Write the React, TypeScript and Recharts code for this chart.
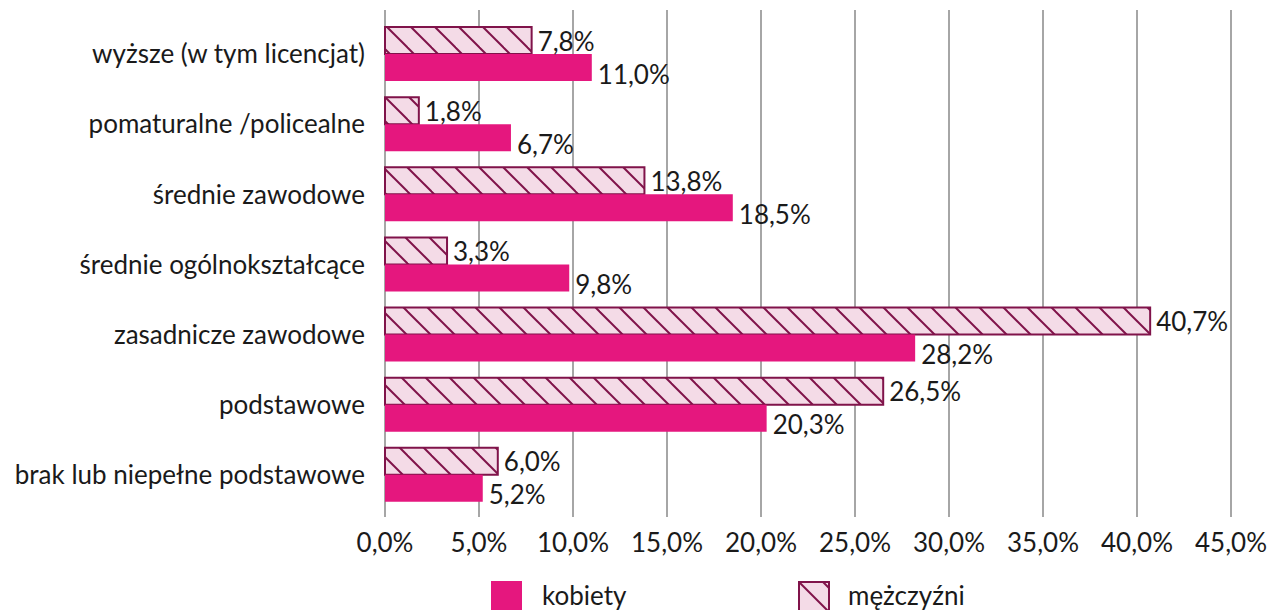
import React from "react";
import { BarChart, Bar, XAxis, YAxis, CartesianGrid, LabelList } from "recharts";

const categories = [
  "wyższe (w tym licencjat)",
  "pomaturalne /policealne",
  "średnie zawodowe",
  "średnie ogólnokształcące",
  "zasadnicze zawodowe",
  "podstawowe",
  "brak lub niepełne podstawowe",
];
const kobiety = [11.0, 6.7, 18.5, 9.8, 28.2, 20.3, 5.2];
const mezczyzni = [7.8, 1.8, 13.8, 3.3, 40.7, 26.5, 6.0];
const xTicks = [0, 5, 10, 15, 20, 25, 30, 35, 40, 45];
const seriesNames = ["kobiety", "mężczyźni"];

const data = categories.map((c, i) => ({ name: c, k: kobiety[i], m: mezczyzni[i] }));

const PINK = "#e5177e";
const MAROON = "#80134a";
const LIGHT = "#f4dbe7";
const FONT = "Lato, 'Open Sans', sans-serif";
const FS = 26;
const TXT = "#1a1a1a";

const fmt = (v: number) => v.toFixed(1).replace(".", ",") + "%";

const menLabel = (props: any) => {
  const { x, y, width, height, value } = props;
  return (
    <text x={x + width + 6} y={y + height / 2} dominantBaseline="central" fontSize={FS} fill={TXT} fontFamily={FONT}>
      {fmt(value)}
    </text>
  );
};
const womenLabel = (props: any) => {
  const { x, y, width, height, value } = props;
  return (
    <text x={x + width + 6} y={y + height / 2 + 6} dominantBaseline="central" fontSize={FS} fill={TXT} fontFamily={FONT}>
      {fmt(value)}
    </text>
  );
};

export default function App() {
  return (
    <div style={{ position: "absolute", left: 0, top: 0, width: 1277, height: 610, background: "#fff", overflow: "hidden", fontFamily: FONT }}>
      <BarChart
        width={1277}
        height={610}
        data={data}
        layout="vertical"
        margin={{ top: 10, right: 46, bottom: 63, left: 0 }}
        barSize={27}
        barGap={0}
      >
        <defs>
          <pattern id="hatch" patternUnits="userSpaceOnUse" width="24" height="24">
            <rect x="0" y="0" width="24" height="24" fill={LIGHT} />
            <line x1="0" y1="0" x2="24" y2="24" stroke={MAROON} strokeWidth="2" />
            <line x1="-12" y1="12" x2="12" y2="36" stroke={MAROON} strokeWidth="2" />
            <line x1="12" y1="-12" x2="36" y2="12" stroke={MAROON} strokeWidth="2" />
          </pattern>
        </defs>
        <CartesianGrid horizontal={false} vertical={true} stroke="#a6a6a6" strokeWidth={2} />
        <XAxis
          type="number"
          domain={[0, 45]}
          ticks={xTicks}
          tickFormatter={fmt}
          axisLine={false}
          tickLine={false}
          tickSize={0}
          tickMargin={17}
          height={30}
          interval={0}
          tick={{ fontSize: FS, fill: TXT, fontFamily: FONT }}
        />
        <YAxis
          type="category"
          dataKey="name"
          width={385}
          axisLine={false}
          tickLine={false}
          tickSize={0}
          tickMargin={20}
          padding={{ top: 9, bottom: 7 }}
          interval={0}
          tick={{ fontSize: FS, fill: TXT, fontFamily: FONT }}
        />
        <Bar dataKey="m" name={seriesNames[1]} fill="url(#hatch)" stroke={MAROON} strokeWidth={2} isAnimationActive={false}>
          <LabelList dataKey="m" content={menLabel} />
        </Bar>
        <Bar dataKey="k" name={seriesNames[0]} fill={PINK} isAnimationActive={false}>
          <LabelList dataKey="k" content={womenLabel} />
        </Bar>
      </BarChart>
      <div style={{ position: "absolute", left: 491, top: 581, width: 31, height: 31, background: PINK }} />
      <div style={{ position: "absolute", left: 542, top: 578, fontSize: FS, color: TXT, lineHeight: "34px" }}>{seriesNames[0]}</div>
      <svg style={{ position: "absolute", left: 798, top: 581 }} width={33} height={33}>
        <rect x={1} y={1} width={30} height={30} fill={LIGHT} stroke={MAROON} strokeWidth={2} />
        <line x1={1} y1={1} x2={31} y2={31} stroke={MAROON} strokeWidth={2} />
        <line x1={25} y1={1} x2={31} y2={7} stroke={MAROON} strokeWidth={2} />
      </svg>
      <div style={{ position: "absolute", left: 848, top: 578, fontSize: FS, color: TXT, lineHeight: "34px" }}>{seriesNames[1]}</div>
    </div>
  );
}
